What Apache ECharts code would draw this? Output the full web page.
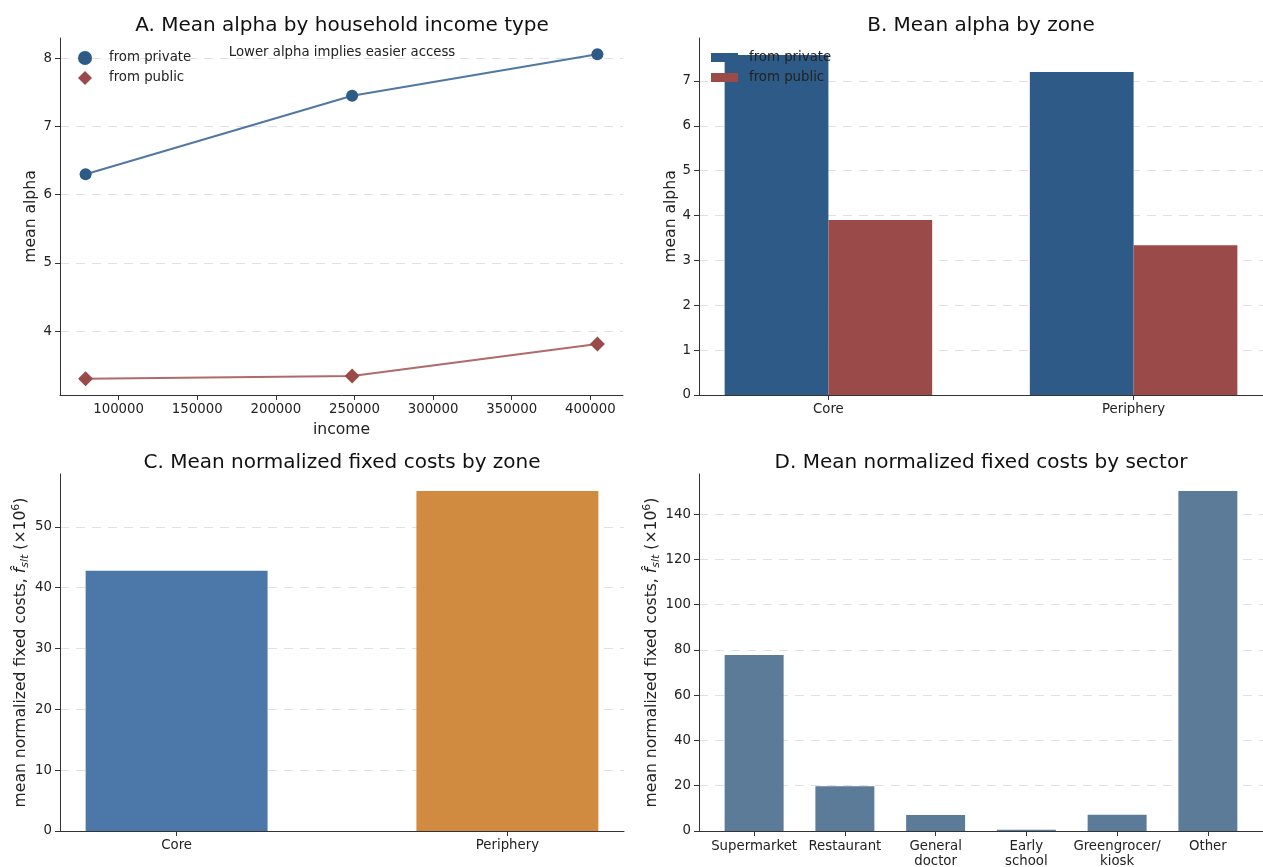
<!DOCTYPE html>
<html><head><meta charset="utf-8">
<script src="https://cdn.jsdelivr.net/npm/echarts@6/dist/echarts.min.js"></script>
<style>html,body{margin:0;padding:0;background:#fff}#c{width:1263px;height:867px}</style>
</head><body><div id="c"></div>
<script>
// ---------- data ----------
const incomeA = [79000, 248500, 404500];
const alphaPrivateA = [6.30, 7.45, 8.06];
const alphaPublicA = [3.30, 3.34, 3.81];
const incomeTicks = [100000, 150000, 200000, 250000, 300000, 350000, 400000];
const alphaTicksA = [4, 5, 6, 7, 8];

const zones = ['Core', 'Periphery'];
const alphaPrivateB = [7.58, 7.20];
const alphaPublicB = [3.90, 3.34];
const alphaTicksB = [0, 1, 2, 3, 4, 5, 6, 7];

const costsC = [42.8, 55.9];
const costTicksC = [0, 10, 20, 30, 40, 50];

const sectors = ['Supermarket', 'Restaurant', 'General\ndoctor', 'Early\nschool', 'Greengrocer/\nkiosk', 'Other'];
const costsD = [77.7, 19.8, 7.1, 0.5, 7.2, 150.2];
const costTicksD = [0, 20, 40, 60, 80, 100, 120, 140];

const seriesNames = ['from private', 'from public'];

// ---------- styles ----------
const FONT = 'DejaVu Sans';
const INK = '#222222';
const C_PRIV = '#2e5a87', C_PUB = '#9b4a4a';
const L_PRIV = '#5078a3', L_PUB = '#b06a6a';
const zoneColors = ['#4b78a8', '#d08b40'];
const sectorColor = '#5b7b98';
const TICK_FS = 13.3, NAME_FS = 15.6;

function pad(lo, hi, f) { const r = hi - lo; return [lo - r * f, hi + r * f]; }
const xA = pad(Math.min(...incomeA), Math.max(...incomeA), 0.05);
const yA = pad(Math.min(...alphaPublicA), Math.max(...alphaPrivateA), 0.05);
const idxZ = zones.map((_, i) => i);
const idxS = sectors.map((_, i) => i);

function axis(o) {
  const base = {
    type: 'value',
    axisLine: { show: true, onZero: false, lineStyle: { color: '#333', width: 1 } },
    axisTick: { show: true, length: 5, lineStyle: { color: '#333', width: 1 }, customValues: o.ticks },
    axisLabel: Object.assign({ color: INK, fontSize: TICK_FS, fontFamily: FONT, margin: 8, customValues: o.ticks,
      formatter: o.fmt || (v => String(v)) }, o.label || {}),
    splitLine: { show: !!o.grid, lineStyle: { color: '#e0e0e8', width: 1, type: [9, 7] } },
    nameTextStyle: Object.assign({ color: INK, fontSize: NAME_FS, fontFamily: FONT }, o.nameStyle || {}),
  };
  const r = Object.assign(base, { gridIndex: o.gi, min: o.min, max: o.max });
  if (o.name) { r.name = o.name; r.nameLocation = 'middle'; r.nameGap = o.gap; }
  return r;
}

const ylabRich = {
  f: { fontStyle: 'italic', fontSize: NAME_FS, fontFamily: FONT, color: INK, lineHeight: 20 },
  s: { fontStyle: 'italic', fontSize: 11, fontFamily: FONT, color: INK, verticalAlign: 'bottom', lineHeight: 12 },
  p: { fontSize: 11, fontFamily: FONT, color: INK, verticalAlign: 'top', lineHeight: 12 }
};
const costName = 'mean normalized fixed costs, {f|f\u0302}{s|slt} (\u00d710{p|6})';

const titleStyle = { fontSize: 20, fontWeight: 'normal', color: '#111', fontFamily: FONT };

const option = {
  animation: false,
  backgroundColor: '#fff',
  title: [
    { text: 'A. Mean alpha by household income type', left: 342, top: 16, textAlign: 'center', padding: 0, textStyle: titleStyle },
    { text: 'B. Mean alpha by zone', left: 981, top: 16, textAlign: 'center', padding: 0, textStyle: titleStyle },
    { text: 'C. Mean normalized fixed costs by zone', left: 342, top: 453, textAlign: 'center', padding: 0, textStyle: titleStyle },
    { text: 'D. Mean normalized fixed costs by sector', left: 981, top: 453, textAlign: 'center', padding: 0, textStyle: titleStyle },
    { text: 'Lower alpha implies easier access', left: 342, top: 46, textAlign: 'center', padding: 0,
      textStyle: { fontSize: TICK_FS, fontWeight: 'normal', color: INK, fontFamily: FONT } }
  ],
  legend: [
    { orient: 'vertical', left: 78, top: 51, padding: 0, itemWidth: 14, itemHeight: 14, itemGap: 6, selectedMode: false,
      data: [{ name: 'A|' + seriesNames[0], icon: 'circle' }, { name: 'A|' + seriesNames[1], icon: 'diamond' }],
      formatter: n => n.split('|')[1],
      textStyle: { fontSize: TICK_FS, color: INK, fontFamily: FONT, padding: [0, 0, 0, 12] } },
    { orient: 'vertical', left: 711, top: 51, padding: 0, itemWidth: 27, itemHeight: 9, itemGap: 7, selectedMode: false,
      data: [{ name: 'B|' + seriesNames[0], icon: 'rect' }, { name: 'B|' + seriesNames[1], icon: 'rect' }],
      formatter: n => n.split('|')[1],
      textStyle: { fontSize: TICK_FS, color: INK, fontFamily: FONT, padding: [0, 0, 0, 6] } }
  ],
  grid: [
    { left: 60, top: 38, width: 563, height: 357, outerBoundsMode: 'none', containLabel: false },
    { left: 699, top: 38, width: 564, height: 357, outerBoundsMode: 'none', containLabel: false },
    { left: 60, top: 474, width: 564, height: 357, outerBoundsMode: 'none', containLabel: false },
    { left: 699, top: 474, width: 564, height: 357, outerBoundsMode: 'none', containLabel: false }
  ],
  xAxis: [
    axis({ gi: 0, min: xA[0], max: xA[1], ticks: incomeTicks, name: 'income', gap: 27 }),
    axis({ gi: 1, min: -0.424, max: 1.424, ticks: idxZ, fmt: v => zones[Math.round(v)] }),
    axis({ gi: 2, min: -0.3525, max: 1.3525, ticks: idxZ, fmt: v => zones[Math.round(v)] }),
    axis({ gi: 3, min: -0.6075, max: 5.6075, ticks: idxS, fmt: v => sectors[Math.round(v)], label: { lineHeight: 15, margin: 8 } })
  ],
  yAxis: [
    axis({ gi: 0, min: yA[0], max: yA[1], ticks: alphaTicksA, grid: true, name: 'mean alpha', gap: 21 }),
    axis({ gi: 1, min: 0, max: Math.max(...alphaPrivateB, ...alphaPublicB) * 1.05, ticks: alphaTicksB, grid: true, name: 'mean alpha', gap: 20 }),
    axis({ gi: 2, min: 0, max: Math.max(...costsC) * 1.05, ticks: costTicksC, grid: true, name: costName, gap: 29, nameStyle: { rich: ylabRich, lineHeight: 20 } }),
    axis({ gi: 3, min: 0, max: Math.max(...costsD) * 1.05, ticks: costTicksD, grid: true, name: costName, gap: 33, nameStyle: { rich: ylabRich, lineHeight: 20 } })
  ],
  series: [
    { name: 'A|' + seriesNames[0], type: 'line', xAxisIndex: 0, yAxisIndex: 0,
      data: incomeA.map((x, i) => [x, alphaPrivateA[i]]),
      symbol: 'circle', symbolSize: 12, lineStyle: { color: L_PRIV, width: 2 }, itemStyle: { color: C_PRIV } },
    { name: 'A|' + seriesNames[1], type: 'line', xAxisIndex: 0, yAxisIndex: 0,
      data: incomeA.map((x, i) => [x, alphaPublicA[i]]),
      symbol: 'diamond', symbolSize: 15, lineStyle: { color: L_PUB, width: 2 }, itemStyle: { color: C_PUB } },
    { name: 'B|' + seriesNames[0], type: 'bar', xAxisIndex: 1, yAxisIndex: 1, barWidth: '34%', barGap: '0%',
      data: idxZ.map(i => [i, alphaPrivateB[i]]), itemStyle: { color: C_PRIV } },
    { name: 'B|' + seriesNames[1], type: 'bar', xAxisIndex: 1, yAxisIndex: 1, barWidth: '34%', barGap: '0%',
      data: idxZ.map(i => [i, alphaPublicB[i]]), itemStyle: { color: C_PUB } },
    { name: 'C', type: 'bar', xAxisIndex: 2, yAxisIndex: 2, barWidth: '55%',
      data: idxZ.map(i => ({ value: [i, costsC[i]], itemStyle: { color: zoneColors[i] } })) },
    { name: 'D', type: 'bar', xAxisIndex: 3, yAxisIndex: 3, barWidth: '65%',
      data: idxS.map(i => [i, costsD[i]]),
      itemStyle: { color: sectorColor } }
  ]
};
const chart = echarts.init(document.getElementById('c'), null, { renderer: 'canvas' });
chart.setOption(option);
</script></body></html>
